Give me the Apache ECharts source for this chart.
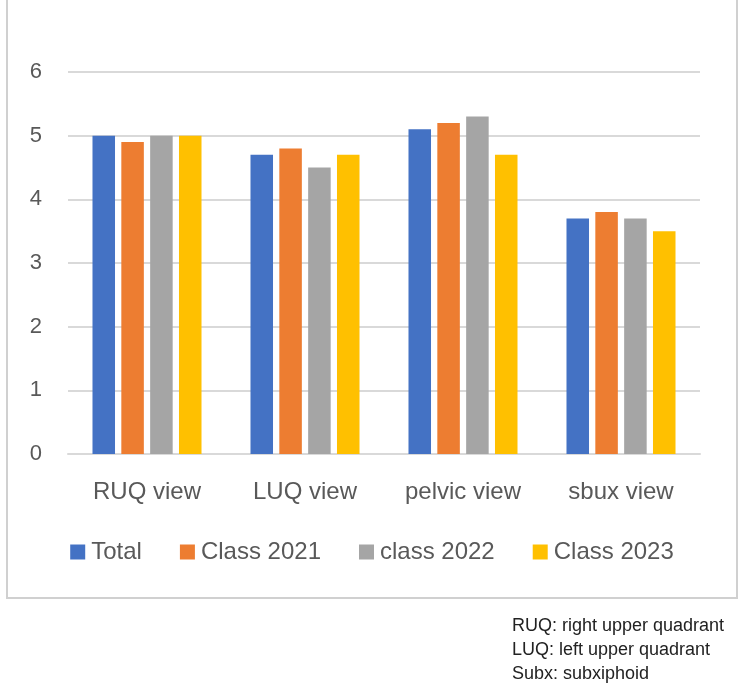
<!DOCTYPE html>
<html>
<head>
<meta charset="utf-8">
<script src="https://cdn.jsdelivr.net/npm/echarts@6/dist/echarts.min.js"></script>
<style>
html,body{margin:0;padding:0;background:#fff;}
#chart{width:744px;height:692px;}
</style>
</head>
<body>
<div id="chart"></div>
<script>
const categories = ['RUQ view', 'LUQ view', 'pelvic view', 'sbux view'];
const seriesNames = ['Total', 'Class 2021', 'class 2022', 'Class 2023'];
const totalValues = [5.0, 4.7, 5.1, 3.7];
const class2021Values = [4.9, 4.8, 5.2, 3.8];
const class2022Values = [5.0, 4.5, 5.3, 3.7];
const class2023Values = [5.0, 4.7, 4.7, 3.5];
const yTicks = [0, 1, 2, 3, 4, 5, 6];
const notes = ['RUQ: right upper quadrant', 'LUQ: left upper quadrant', 'Subx: subxiphoid'];

const colors = ['#4472C4', '#ED7D31', '#A5A5A5', '#FFC000'];
const allValues = [totalValues, class2021Values, class2022Values, class2023Values];
const FONT = 'Liberation Sans';

const chart = echarts.init(document.getElementById('chart'), null, {renderer: 'canvas'});

const series = seriesNames.map((name, i) => ({
  name: name,
  type: 'bar',
  data: allValues[i],
  itemStyle: {color: colors[i]},
  barGap: '28%',
  barCategoryGap: '31%'
}));

chart.setOption({
  animation: false,
  backgroundColor: '#ffffff',
  color: colors,
  grid: {left: 68, right: 44, top: 72, bottom: 238, containLabel: false},
  xAxis: {
    type: 'category',
    data: categories,
    axisLine: {show: true, lineStyle: {color: '#D9D9D9', width: 2}},
    axisTick: {show: false},
    axisLabel: {color: '#595959', fontFamily: FONT, fontSize: 24, margin: 26}
  },
  yAxis: {
    type: 'value',
    min: yTicks[0],
    max: yTicks[yTicks.length - 1],
    interval: 1,
    axisLine: {show: false},
    axisTick: {show: false},
    splitLine: {lineStyle: {color: '#D9D9D9', width: 2}},
    axisLabel: {color: '#595959', fontFamily: FONT, fontSize: 22, margin: 26}
  },
  legend: {
    data: seriesNames,
    bottom: 123,
    left: 'center',
    icon: 'rect',
    itemWidth: 15,
    itemHeight: 15,
    itemGap: 38,
    textStyle: {color: '#595959', fontFamily: FONT, fontSize: 24, padding: [0, 0, 0, 1]}
  },
  graphic: [
    {type: 'rect', shape: {x: 7, y: -10, width: 730, height: 608}, style: {fill: 'none', stroke: '#D0D0D0', lineWidth: 2}, silent: true},
    {type: 'text', left: 512, top: 617, style: {text: notes[0], fill: '#222', font: '18px ' + FONT}},
    {type: 'text', left: 512, top: 641, style: {text: notes[1], fill: '#222', font: '18px ' + FONT}},
    {type: 'text', left: 512, top: 665, style: {text: notes[2], fill: '#222', font: '18px ' + FONT}}
  ],
  series: series
});
</script>
</body>
</html>
